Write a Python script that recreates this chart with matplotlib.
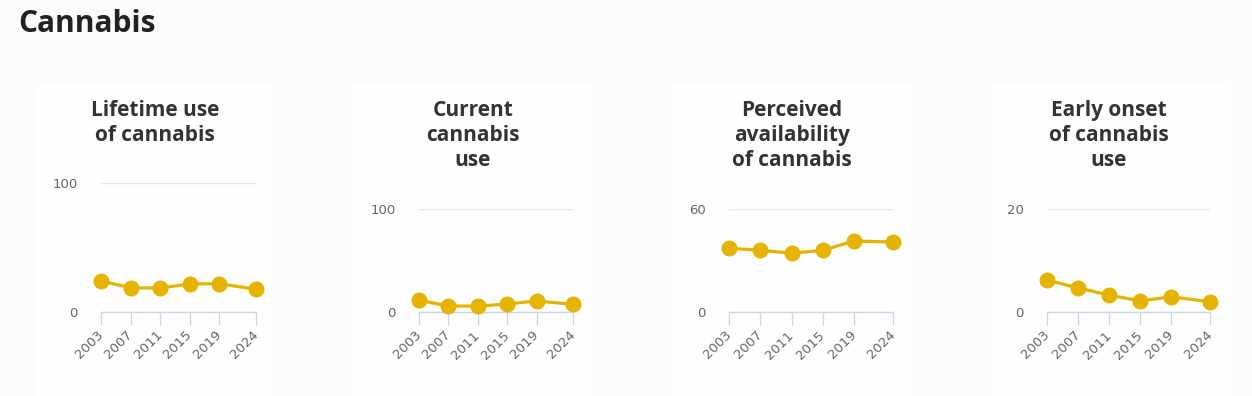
import matplotlib.pyplot as plt
from matplotlib.patches import Rectangle

# survey years and indicator values (%)
years = [2003, 2007, 2011, 2015, 2019, 2024]
titles = ["Lifetime use\nof cannabis", "Current\ncannabis\nuse",
          "Perceived\navailability\nof cannabis", "Early onset\nof cannabis\nuse"]
lifetime_use = [24.0, 18.8, 18.6, 21.7, 22.0, 17.6]
current_use = [11.6, 6.1, 6.0, 8.0, 10.9, 7.7]
availability = [37.1, 35.9, 34.2, 35.9, 41.3, 40.7]
early_onset = [6.2, 4.7, 3.3, 2.2, 3.0, 2.0]
y_max = [100, 100, 60, 20]

series = [lifetime_use, current_use, availability, early_onset]

W, H = 1252, 396
fig = plt.figure(figsize=(W / 100, H / 100), dpi=100)
fig.patch.set_facecolor("#fcfcfc")

# plot areas in pixels: (x_left, x_right, y_zero, y_top)
boxes = [(101, 256, 312, 183), (419, 573.3, 312.3, 208.7),
         (729.3, 893, 312.3, 208.7), (1047.3, 1210.3, 312.3, 208.7)]
cards = [(35, 273), (352, 592), (671, 911), (990, 1230)]
title_x = [155, 472.7, 791.7, 1109]

for i in range(4):
    cx0, cx1 = cards[i]
    fig.patches.append(Rectangle((cx0 / W, 0), (cx1 - cx0) / W, (H - 85) / H,
                                 transform=fig.transFigure, color="#fefefe",
                                 zorder=-5))

    x0, x1, yb, yt = boxes[i]
    ax = fig.add_axes([x0 / W, (H - yb) / H, (x1 - x0) / W, (yb - yt) / H])
    ax.set_facecolor("none")
    ax.plot(years, series[i], color="#e6b400", lw=2.3, marker="o", ms=10.5,
            clip_on=False, zorder=3)
    ax.set_xlim(2003, 2024)
    ax.set_ylim(0, y_max[i])
    ax.set_yticks([0, y_max[i]])
    ax.set_xticks(years)
    ax.set_xticklabels([str(y) for y in years], rotation=45, ha="right",
                       va="center", rotation_mode="anchor")
    for s in ["top", "right", "left"]:
        ax.spines[s].set_visible(False)
    ax.spines["bottom"].set_color("#ccd6eb")
    ax.spines["bottom"].set_linewidth(1)
    ax.grid(axis="y", color="#e6e6e6", lw=1)
    ax.set_axisbelow(True)
    ax.tick_params(axis="y", length=0, pad=17, labelsize=9.5, labelcolor="#666666")
    ax.tick_params(axis="x", length=9, width=0.9, color="#ccd6eb", pad=6,
                   labelsize=9.5, labelcolor="#666666")

    fig.text(title_x[i] / W, 1 - 100 / H, titles[i], ha="center", va="top",
             fontsize=15, fontweight="bold", color="#333333",
             family="Open Sans", linespacing=1.25)

fig.text(18 / W, 1 - 24 / H, "Cannabis", ha="left", va="center", fontsize=21.5,
         fontweight="bold", color="#222222", family="Open Sans")

fig.savefig("out.png", dpi=100, facecolor=fig.get_facecolor())
